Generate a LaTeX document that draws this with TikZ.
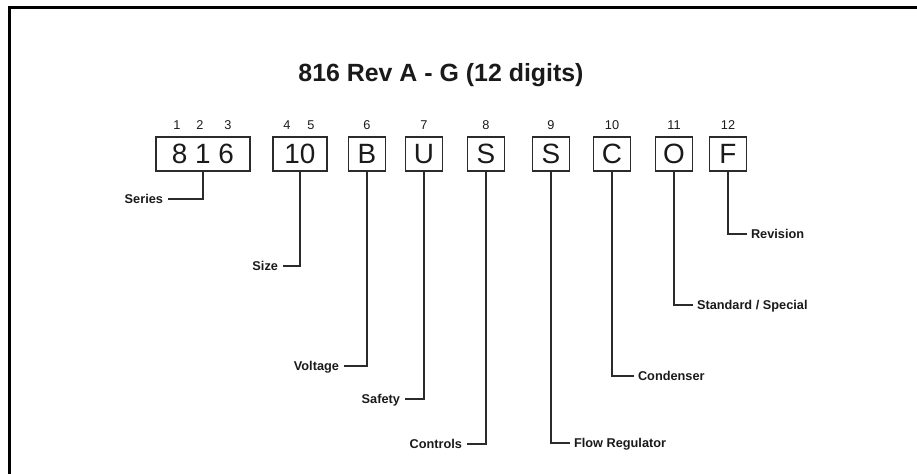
\documentclass[tikz,border=0pt]{standalone}
\usepackage{fontspec}
\setmainfont{Liberation Sans}
\usetikzlibrary{positioning}
\definecolor{lineGray}{HTML}{2B2B2B}
\definecolor{textDark}{HTML}{1A1A1A}

\begin{document}
\begin{tikzpicture}[x=1bp, y=-1bp,
    digitbox/.style={
        rectangle, draw=lineGray,
        minimum height=34bp, inner sep=0pt,
        line width=1.3bp, text=textDark,
        font=\fontsize{28}{30}\selectfont
    },
    posnum/.style={inner sep=0pt, text depth=0pt, text=textDark,
        font=\fontsize{12.8}{14}\selectfont},
    part/.style={inner sep=0pt, outer xsep=4.5bp,
        text height=9.2bp, text depth=0pt, text=textDark,
        font=\bfseries\fontsize{12.8}{14}\selectfont},
    lead/.style={draw=lineGray, line width=1.4bp}
]
  \useasboundingbox (0,0) rectangle (917,474);

  % Frame
  \draw[line width=3bp] (9,480) |- (925,8);

  % Title
  \node[anchor=base, inner sep=0pt, text=textDark,
        font=\bfseries\fontsize{25}{30}\selectfont] (title) at (441,82)
        {816 Rev A - G (12 digits)};

  % Code boxes
  \node[digitbox, minimum width=94bp] (b816) at (203,154) {8 1 6};
  \node[digitbox, minimum width=54bp] (b10) at (300,154) {10};
  \node[digitbox, minimum width=37bp] (bB) at (367,154) {B};
  \node[digitbox, minimum width=37bp] (bU) at (424,154) {U};
  \node[digitbox, minimum width=37bp] (bSa) at (486,154) {S};
  \node[digitbox, minimum width=37bp] (bSb) at (551,154) {S};
  \node[digitbox, minimum width=37bp] (bC) at (612,154) {C};
  \node[digitbox, minimum width=37bp] (bO) at (674,154) {O};
  \node[digitbox, minimum width=37bp] (bF) at (728,154) {F};

  % Digit positions
  \node[posnum] (n1) at (177,125) {1};
  \node[posnum] (n2) at (200,125) {2};
  \node[posnum] (n3) at (228,125) {3};
  \node[posnum] (n4) at (287,125) {4};
  \node[posnum] (n5) at (311,125) {5};
  \node[posnum, above=7bp of bB] (n6) {6};
  \node[posnum, above=7bp of bU] (n7) {7};
  \node[posnum, above=7bp of bSa] (n8) {8};
  \node[posnum, above=7bp of bSb] (n9) {9};
  \node[posnum, above=7bp of bC] (n10) {10};
  \node[posnum, above=7bp of bO] (n11) {11};
  \node[posnum, above=7bp of bF] (n12) {12};

  % Field names
  \node[part, anchor=east] (series) at (167.5,199) {Series};
  \node[part, anchor=east] (size) at (282.5,266) {Size};
  \node[part, anchor=east] (voltage) at (343.5,366) {Voltage};
  \node[part, anchor=east] (safety) at (404.5,399) {Safety};
  \node[part, anchor=east] (controls) at (466.5,444) {Controls};
  \node[part, anchor=west] (flow) at (569.5,443) {Flow Regulator};
  \node[part, anchor=west] (condenser) at (633.5,376) {Condenser};
  \node[part, anchor=west] (special) at (692.5,305) {Standard / Special};
  \node[part, anchor=west] (revision) at (746.5,234) {Revision};

  % Leader lines
  \draw[lead] (b816.south) |- (series);
  \draw[lead] (b10.south) |- (size);
  \draw[lead] (bB.south) |- (voltage);
  \draw[lead] (bU.south) |- (safety);
  \draw[lead] (bSa.south) |- (controls);
  \draw[lead] (bSb.south) |- (flow);
  \draw[lead] (bC.south) |- (condenser);
  \draw[lead] (bO.south) |- (special);
  \draw[lead] (bF.south) |- (revision);

\end{tikzpicture}
\end{document}
